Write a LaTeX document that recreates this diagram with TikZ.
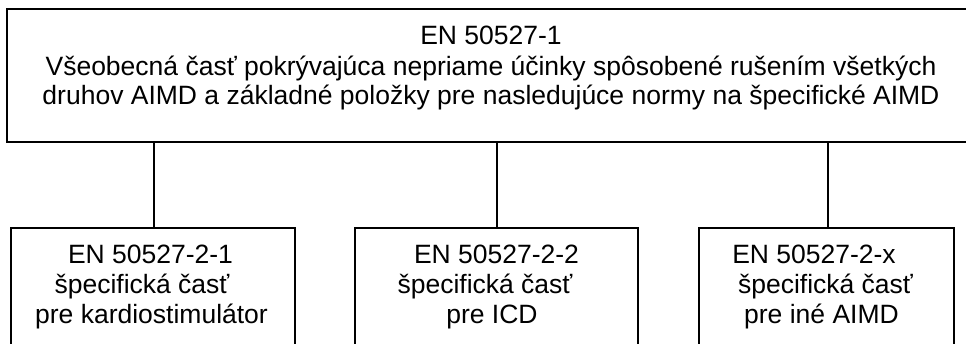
\documentclass[tikz,border=0pt]{standalone}
\usepackage{fontspec}
\setmainfont{Liberation Sans}
\begin{document}
\begin{tikzpicture}[x=1pt,y=-1pt,
  box/.style={draw=black,line width=1.4pt,rectangle,inner sep=0pt},
  txt/.style={anchor=base,font=\fontsize{26.5}{30}\selectfont,inner sep=0pt},
  link/.style={draw=black,line width=1.4pt}]
\clip (0,0) rectangle (966,343);
\fill[white] (0,0) rectangle (966,343);
% top box
\node[box,minimum width=968pt,minimum height=133pt] (top) at (491,75.5) {};
\node[txt] (t1) at (491,44) {EN 50527-1};
\node[txt] (t2) at (491,75) {Všeobecná časť pokrývajúca nepriame účinky spôsobené rušením všetkých};
\node[txt] (t3) at (491,104) {druhov AIMD a základné položky pre nasledujúce normy na špecifické AIMD};
% bottom boxes
\node[box,minimum width=284pt,minimum height=132pt] (b1) at (153,294) {};
\node[box,minimum width=283pt,minimum height=132pt] (b2) at (496.5,294) {};
\node[box,minimum width=255pt,minimum height=132pt] (b3) at (826.5,294) {};
% texts of bottom boxes
\node[txt] (b1a) at (150.5,263) {EN 50527-2-1};
\node[txt] (b1b) at (142,293) {špecifická časť};
\node[txt] (b1c) at (151.5,323) {pre kardiostimulátor};
\node[txt] (b2a) at (496.5,263) {EN 50527-2-2};
\node[txt] (b2b) at (485,293) {špecifická časť};
\node[txt] (b2c) at (492,323) {pre ICD};
\node[txt] (b3a) at (814,263) {EN 50527-2-x};
\node[txt] (b3b) at (825.5,293) {špecifická časť};
\node[txt] (b3c) at (821.5,323) {pre iné AIMD};
% connectors
\coordinate (c1) at ([xshift=1pt]b1.north);
\coordinate (c2) at ([xshift=0.5pt]b2.north);
\coordinate (c3) at ([xshift=1.5pt]b3.north);
\draw[link] (top.south -| c1) -- (c1);
\draw[link] (top.south -| c2) -- (c2);
\draw[link] (top.south -| c3) -- (c3);
\end{tikzpicture}
\end{document}
